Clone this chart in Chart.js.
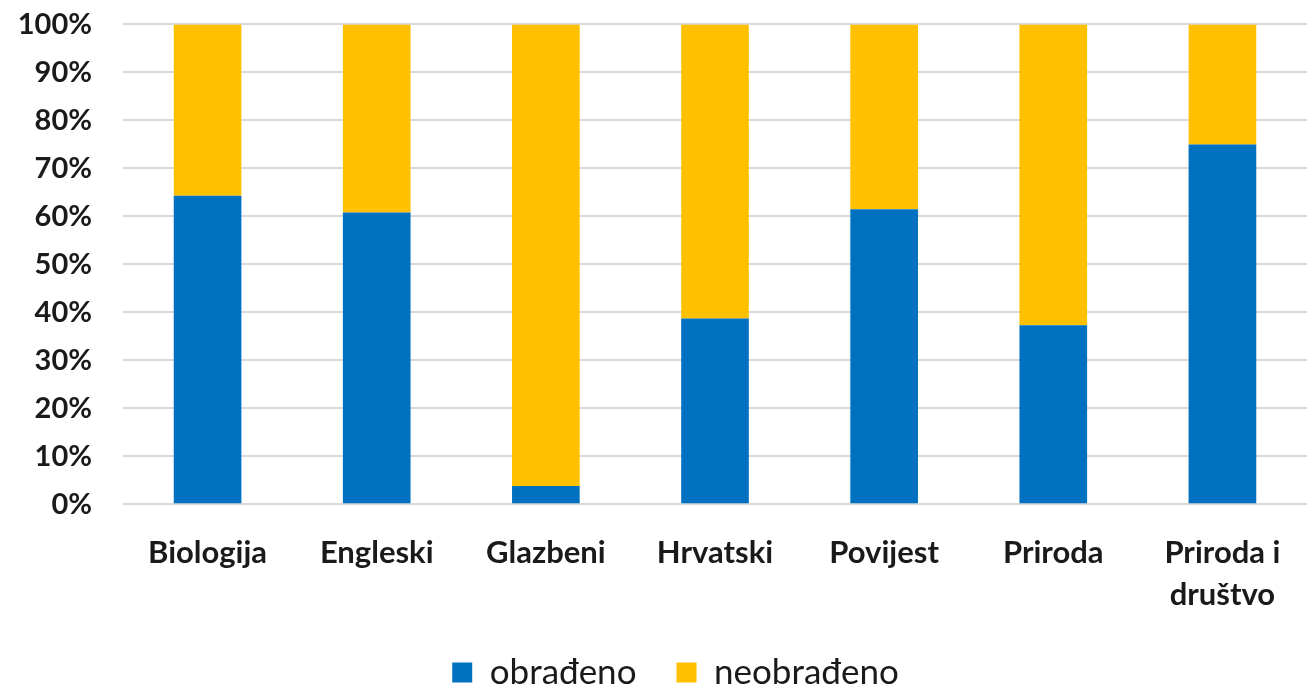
<!DOCTYPE html>
<html>
<head>
  <meta charset="utf-8">
  <title>Obrađeno po predmetima</title>
  <script src="https://cdn.jsdelivr.net/npm/chart.js"></script>
  <style>
    body{
        margin:0px;
        padding:0px;
        overflow:hidden;
        background-color:#ffffff;
    }
    #chart_container{
        width:1315px;
        height:712px;
        margin-top:-24px;
    }
  </style>
</head>
<body>
<div id="chart_container">
    <canvas id="chart"></canvas>
</div>
<script>
    var predmeti = ['Biologija', 'Engleski', 'Glazbeni', 'Hrvatski', 'Povijest', 'Priroda', ['Priroda i', 'društvo']];
    var obradeno = [64.3, 60.8, 3.8, 38.7, 61.5, 37.3, 75.0];
    var neobradeno = [35.7, 39.2, 96.2, 61.3, 38.5, 62.7, 25.0];
    var yTicks = [0, 10, 20, 30, 40, 50, 60, 70, 80, 90, 100];

    // legend in the original sits a little right of centre
    var legendShift = {
      id: 'legendShift',
      afterLayout: function(chart) {
        chart.legend.left += 22;
        chart.legend.right += 22;
      }
    };

    var ctx = document.getElementById('chart').getContext('2d');
    var chart = new Chart(ctx, {
      type: 'bar',
      data: {
        labels: predmeti,
        datasets: [{
          label: 'obrađeno',
          data: obradeno,
          backgroundColor: '#0070c0',
          categoryPercentage: 1,
          barPercentage: 0.4
        }, {
          label: 'neobrađeno',
          data: neobradeno,
          backgroundColor: '#ffc000',
          categoryPercentage: 1,
          barPercentage: 0.4
        }]
      },
      plugins: [legendShift],
      options: {
        responsive: true,
        maintainAspectRatio: false,
        animation: false,
        layout: {
          padding: { top: 0, right: 8, left: 0, bottom: -12 }
        },
        plugins: {
          tooltip: { enabled: false },
          legend: {
            position: 'bottom',
            labels: {
              color: '#1a1a1a',
              font: { family: 'Lato', size: 35 },
              boxWidth: 20,
              boxHeight: 20,
              padding: 40
            }
          }
        },
        scales: {
          x: {
            stacked: true,
            grid: { display: false, drawTicks: false },
            border: { display: false },
            afterFit: function(scale) { scale.height = scale.height - 29; },
            ticks: {
              color: '#1a1a1a',
              padding: 28,
              maxRotation: 0,
              autoSkip: false,
              font: { family: 'Lato', size: 31, weight: 'bold', lineHeight: 1.35 }
            }
          },
          y: {
            stacked: true,
            min: 0,
            max: 100,
            afterBuildTicks: function(scale) {
              scale.ticks = yTicks.map(function(v){ return { value: v }; });
            },
            grid: { color: '#d9d9d9', lineWidth: 2, drawTicks: false },
            border: { display: false },
            afterFit: function(scale) { scale.width = 123; },
            ticks: {
              color: '#1a1a1a',
              padding: 31,
              font: { family: 'Lato', size: 29, weight: 'bold' },
              callback: function(v) { return v + '%'; }
            }
          }
        }
      }
    });
</script>
</body>
</html>
